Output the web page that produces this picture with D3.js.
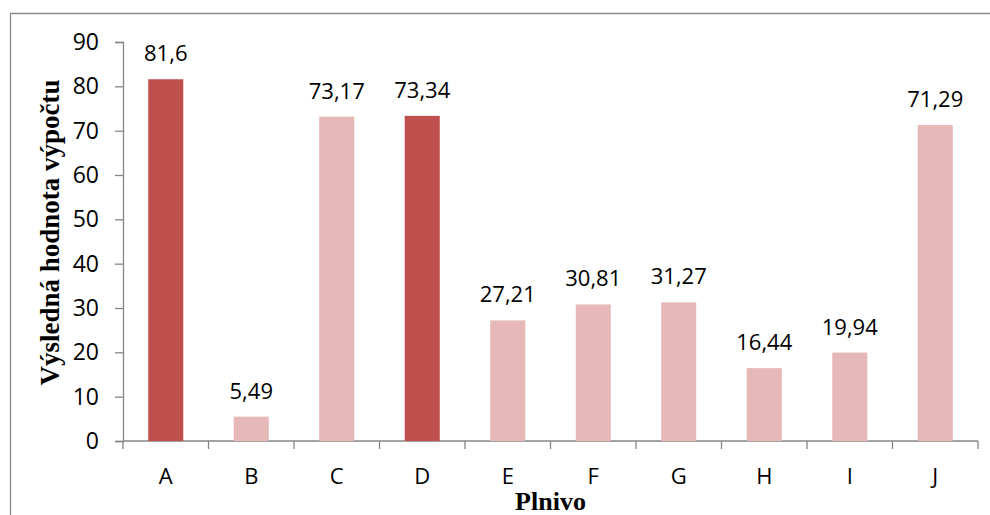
<!DOCTYPE html>
<html>
<head>
<meta charset="utf-8">
<script src="https://cdn.jsdelivr.net/npm/d3@7"></script>
<style>
  body { margin: 0; background: #fff; }
  svg { display: block; }
</style>
</head>
<body>
<div id="chart"></div>
<script>
// data
var categories = ["A", "B", "C", "D", "E", "F", "G", "H", "I", "J"];
var values = [81.6, 5.49, 73.17, 73.34, 27.21, 30.81, 31.27, 16.44, 19.94, 71.29];
var labels = ["81,6", "5,49", "73,17", "73,34", "27,21", "30,81", "31,27", "16,44", "19,94", "71,29"];
var highlighted = ["A", "D"];
var yTicks = [0, 10, 20, 30, 40, 50, 60, 70, 80, 90];

var W = 990, H = 515;
var margin = {top: 42, right: 12, bottom: 74, left: 123},
    width = W - margin.left - margin.right,
    height = H - margin.top - margin.bottom;

var numFont = "'Open Sans', 'Noto Sans', sans-serif";
var titleFont = "'Liberation Serif', 'Times New Roman', serif";

var svgRoot = d3.select("#chart")
  .append("svg")
    .attr("width", W)
    .attr("height", H);

// outer frame (only left and top visible)
svgRoot.append("path")
  .attr("d", "M10.5," + H + "V13.5H" + W)
  .attr("fill", "none")
  .attr("stroke", "#8c8c8c")
  .attr("stroke-width", 1.3);

var svg = svgRoot.append("g")
    .attr("transform", "translate(" + margin.left + "," + margin.top + ")");

var x = d3.scaleBand()
  .domain(categories)
  .range([0, width])
  .paddingInner(0.59)
  .paddingOuter(0.295);

var y = d3.scaleLinear()
  .domain([0, 90])
  .range([height, 0]);

var axisColor = "#868686";

// y axis
var yAxis = svg.append("g")
  .call(d3.axisLeft(y).tickValues(yTicks).tickSize(8).tickPadding(16));
yAxis.select(".domain").attr("stroke", axisColor).attr("stroke-width", 1.3);
yAxis.selectAll(".tick line").attr("stroke", axisColor).attr("stroke-width", 1.3);
yAxis.selectAll(".tick text")
  .attr("fill", "#000")
  .style("font-family", numFont)
  .style("font-size", "23px");

// x axis line + ticks at category boundaries
var xg = svg.append("g").attr("transform", "translate(0," + height + ")");
xg.append("line")
  .attr("x1", 0).attr("x2", width)
  .attr("stroke", axisColor).attr("stroke-width", 1.3);
var step = x.step();
xg.selectAll(".btick")
  .data(d3.range(categories.length + 1))
  .enter().append("line")
    .attr("x1", function(i) { return i * step; })
    .attr("x2", function(i) { return i * step; })
    .attr("y1", 0).attr("y2", 8)
    .attr("stroke", axisColor).attr("stroke-width", 1.3);
xg.selectAll(".clabel")
  .data(categories)
  .enter().append("text")
    .attr("x", function(d) { return x(d) + x.bandwidth() / 2; })
    .attr("y", 43)
    .attr("text-anchor", "middle")
    .style("font-family", numFont)
    .style("font-size", "22px")
    .text(function(d) { return d; });

// bars
svg.selectAll(".bar")
  .data(categories)
  .enter().append("rect")
    .attr("x", function(d) { return x(d); })
    .attr("width", x.bandwidth())
    .attr("y", function(d, i) { return y(values[i]); })
    .attr("height", function(d, i) { return height - y(values[i]); })
    .attr("fill", function(d) { return highlighted.indexOf(d) >= 0 ? "#C0504D" : "#E6B9B8"; });

// value labels
svg.selectAll(".vlabel")
  .data(categories)
  .enter().append("text")
    .attr("x", function(d) { return x(d) + x.bandwidth() / 2; })
    .attr("y", function(d, i) { return y(values[i]) - 18; })
    .attr("text-anchor", "middle")
    .style("font-family", numFont)
    .style("font-size", "22px")
    .text(function(d, i) { return labels[i]; });

// axis titles
svgRoot.append("text")
  .attr("transform", "translate(59," + (margin.top + height / 2 - 9) + ") rotate(-90)")
  .attr("text-anchor", "middle")
  .style("font-family", titleFont)
  .style("font-weight", "bold")
  .style("font-size", "27px")
  .text("Výsledná hodnota výpočtu");

svgRoot.append("text")
  .attr("x", margin.left + width / 2)
  .attr("y", 510)
  .attr("text-anchor", "middle")
  .style("font-family", titleFont)
  .style("font-weight", "bold")
  .style("font-size", "26px")
  .text("Plnivo");
</script>
</body>
</html>
